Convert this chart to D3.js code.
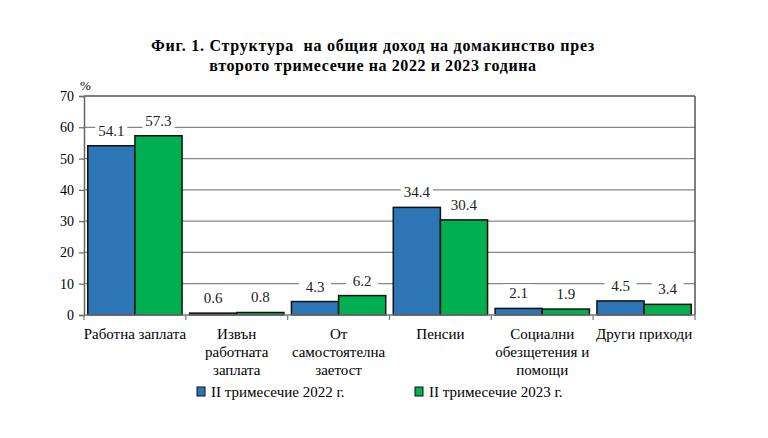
<!DOCTYPE html>
<html><head><meta charset="utf-8">
<script src="https://cdn.jsdelivr.net/npm/d3@7/dist/d3.min.js"></script>
<style>body{margin:0;background:#fff}svg{display:block}</style>
</head><body>
<svg id="c" width="768" height="438"></svg>
<script>
const categories = [
  ["Работна заплата"],
  ["Извън","работната","заплата"],
  ["От","самостоятелна","заетост"],
  ["Пенсии"],
  ["Социални","обезщетения и","помощи"],
  ["Други приходи"]
];
const series2022 = [54.1, 0.6, 4.3, 34.4, 2.1, 4.5];
const series2023 = [57.3, 0.8, 6.2, 30.4, 1.9, 3.4];
const seriesNames = ["II тримесечие 2022 г.", "II тримесечие 2023 г."];
const yTicks = [0,10,20,30,40,50,60,70];
const titleLines = ["Фиг. 1. Структура  на общия доход на домакинство през","второто тримесечие на 2022 и 2023 година"];

const colors = ["#2E75B6", "#00B050"];
const font = "Liberation Serif";
const svg = d3.select("#c");
const L = 84, R = 695, T = 96, B = 315;

const x = d3.scaleBand().domain(d3.range(categories.length)).range([L, R]).paddingInner(0).paddingOuter(0);
const x1 = d3.scaleBand().domain([0,1]).range([0, x.bandwidth()]).paddingOuter(0.08).paddingInner(0);
const y = d3.scaleLinear().domain([0,70]).range([B, T]);

// title
svg.append("g").selectAll("text").data(titleLines).join("text")
  .attr("x", 373).attr("y", (d,i)=>51 + i*20)
  .attr("text-anchor","middle").style("font-family",font).style("font-weight","bold")
  .style("font-size","16px").style("letter-spacing",(d,i)=>i===0?"0.75px":"0.6px")
  .style("white-space","pre").attr("fill","#000").text(d=>d);

// grid lines
svg.append("g").selectAll("line").data(yTicks.filter(t=>t>0 && t<70)).join("line")
  .attr("x1",L).attr("x2",R).attr("y1",d=>y(d)).attr("y2",d=>y(d))
  .attr("stroke","#868686").attr("stroke-width",1.3);
// border top and right
svg.append("line").attr("x1",L).attr("x2",R).attr("y1",y(70)).attr("y2",y(70)).attr("stroke","#555").attr("stroke-width",1.5);
svg.append("line").attr("x1",R).attr("x2",R).attr("y1",y(70)).attr("y2",y(0)).attr("stroke","#555").attr("stroke-width",1.5);

// y axis
const yAxis = svg.append("g").attr("transform",`translate(${L},0)`)
  .call(d3.axisLeft(y).tickValues(yTicks).tickSize(5).tickPadding(5).tickFormat(d3.format("d")));
yAxis.attr("font-family",null);
yAxis.select(".domain").attr("stroke","#666").attr("stroke-width",1.5);
yAxis.selectAll(".tick line").attr("stroke","#666").attr("stroke-width",1.2);
yAxis.selectAll("text").style("font-family",font).style("font-size","14px").attr("fill","#000");

svg.append("text").attr("x",80).attr("y",90).style("font-family",font).style("font-size","13px").text("%");

// bars
const data = categories.map((c,i)=>({i, vals:[series2022[i], series2023[i]]}));
const groups = svg.append("g").selectAll("g").data(data).join("g")
  .attr("transform",d=>`translate(${x(d.i)},0)`);
groups.selectAll("rect").data(d=>d.vals.map((v,k)=>({v,k}))).join("rect")
  .attr("x",d=>x1(d.k)).attr("width",x1.bandwidth())
  .attr("y",d=>y(d.v)).attr("height",d=>y(0)-y(d.v))
  .attr("fill",d=>colors[d.k]).attr("stroke","#111").attr("stroke-width",1.5);

// value labels with white background
const lbl = groups.selectAll("g.lbl").data(d=>d.vals.map((v,k)=>({v,k}))).join("g").attr("class","lbl");
lbl.append("rect")
  .attr("x",d=>x1(d.k)+x1.bandwidth()/2-16).attr("y",d=>y(d.v)-24)
  .attr("width",32).attr("height",18).attr("fill","#fff");
lbl.append("text")
  .attr("x",d=>x1(d.k)+x1.bandwidth()/2).attr("y",d=>y(d.v)-10)
  .attr("text-anchor","middle").style("font-family",font).style("font-size","15px").attr("fill","#222")
  .text(d=>d.v.toFixed(1));

// x axis
const xAxis = svg.append("g").attr("transform",`translate(0,${B})`);
xAxis.append("line").attr("x1",L).attr("x2",R).attr("stroke","#777").attr("stroke-width",1.5);
xAxis.selectAll("line.t").data(d3.range(categories.length+1)).join("line").attr("class","t")
  .attr("x1",i=>L+i*x.bandwidth()).attr("x2",i=>L+i*x.bandwidth()).attr("y1",0).attr("y2",5)
  .attr("stroke","#777").attr("stroke-width",1.2);
const cl = svg.append("g").selectAll("text").data(categories).join("text")
  .style("font-family",font).style("font-size","15px").attr("fill","#000").attr("text-anchor","middle");
cl.each(function(lines,i){
  d3.select(this).selectAll("tspan").data(lines).join("tspan")
    .attr("x", x(i)+x.bandwidth()/2).attr("y",(d,j)=>339 + j*18).text(d=>d);
});

// legend
const leg = svg.append("g").selectAll("g").data(seriesNames).join("g")
  .attr("transform",(d,i)=>`translate(${i===0?197:415},387)`);
leg.append("rect").attr("width",8).attr("height",9).attr("fill",(d,i)=>colors[i]).attr("stroke","#111").attr("stroke-width",1);
leg.append("text").attr("x",14).attr("y",9.5).style("font-family",font).style("font-size","15px").text(d=>d);
</script>
</body></html>
